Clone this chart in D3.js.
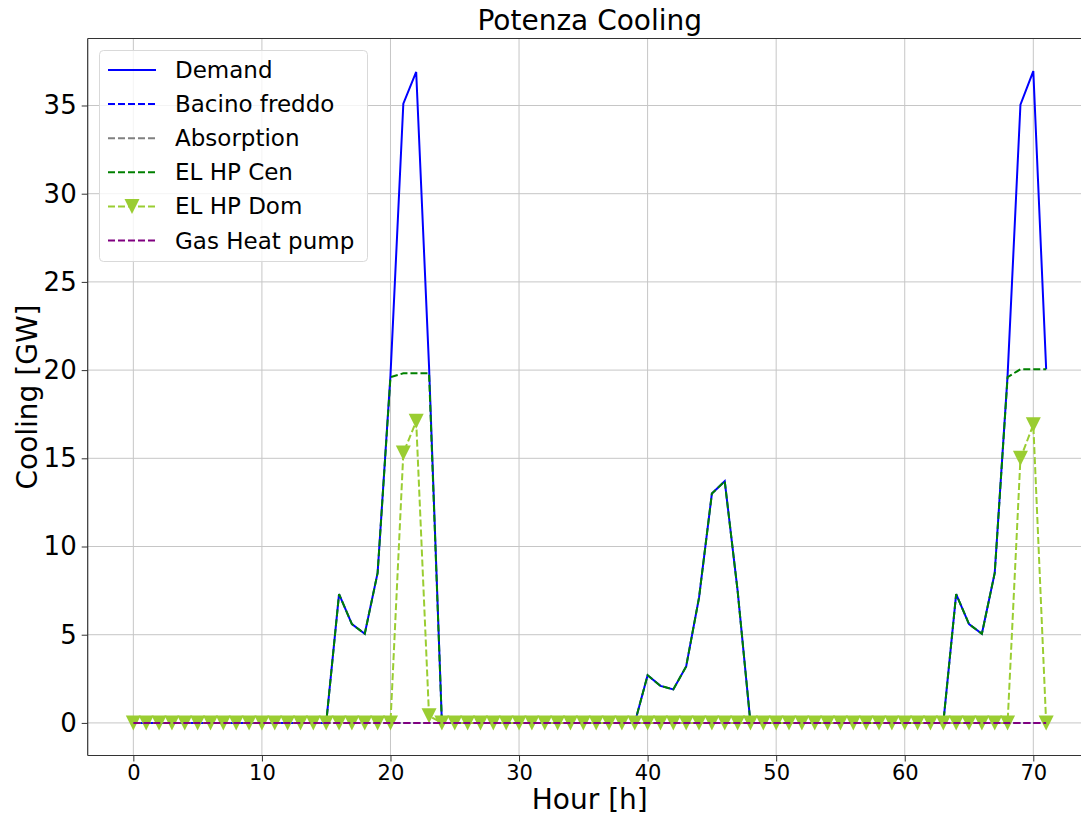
<!DOCTYPE html>
<html>
<head>
<meta charset="utf-8">
<script src="https://cdn.jsdelivr.net/npm/d3@7"></script>
<style>
  body { margin: 0; background: #fff; }
  text { font-family: "DejaVu Sans", sans-serif; fill: #000; }
</style>
</head>
<body>
<div id="chart"></div>
<script>
// hours 0..71
const hours = d3.range(0, 72)

const demand = [
  0,0,0,0,0,0,0,0,0,0,0,0,0,0,0,0,
  7.3,5.6,5.05,8.5,19.7,35.1,36.9,20.2,
  0,0,0,0,0,0,0,0,0,0,0,0,0,0,0,0,
  2.7,2.1,1.9,3.2,7.1,13.0,13.7,7.5,
  0,0,0,0,0,0,0,0,0,0,0,0,0,0,0,0,
  7.3,5.6,5.05,8.5,19.7,35.05,36.95,20.05
]
const elHpCen = [
  0,0,0,0,0,0,0,0,0,0,0,0,0,0,0,0,
  7.3,5.6,5.05,8.5,19.6,19.82,19.82,19.82,
  0,0,0,0,0,0,0,0,0,0,0,0,0,0,0,0,
  2.7,2.1,1.9,3.2,7.1,13.0,13.7,7.5,
  0,0,0,0,0,0,0,0,0,0,0,0,0,0,0,0,
  7.3,5.6,5.05,8.5,19.6,20.05,20.05,20.05
]
const elHpDom = [
  0,0,0,0,0,0,0,0,0,0,0,0,0,0,0,0,
  0,0,0,0,0,15.3,17.1,0.4,
  0,0,0,0,0,0,0,0,0,0,0,0,0,0,0,0,
  0,0,0,0,0,0,0,0,
  0,0,0,0,0,0,0,0,0,0,0,0,0,0,0,0,
  0,0,0,0,0,15.0,16.9,0
]
const bacinoFreddo = hours.map(() => 0)
const absorption = hours.map(() => 0)
const gasHeatPump = hours.map(() => 0)

const xTicks = [0, 10, 20, 30, 40, 50, 60, 70]
const yTicks = [0, 5, 10, 15, 20, 25, 30, 35]

const series = [
  {name: "Demand", values: demand, color: "#0000ff", dash: null, marker: false},
  {name: "Bacino freddo", values: bacinoFreddo, color: "#0000ff", dash: "7,3", marker: false},
  {name: "Absorption", values: absorption, color: "#808080", dash: "7,3", marker: false},
  {name: "EL HP Cen", values: elHpCen, color: "#008000", dash: "7,3", marker: false},
  {name: "EL HP Dom", values: elHpDom, color: "#9acd32", dash: "7,3", marker: true},
  {name: "Gas Heat pump", values: gasHeatPump, color: "#800080", dash: "7,3", marker: false}
]

const W = 1081, H = 816
const plot = {left: 87.7, top: 38.5, right: 1091.8, bottom: 755.5}

const svg = d3.select("#chart")
  .append("svg")
    .attr("width", W)
    .attr("height", H)

const yMax = d3.max(demand)
const x = d3.scaleLinear().domain([-3.55, 74.55]).range([plot.left, plot.right])
const y = d3.scaleLinear().domain([-0.05 * yMax, yMax * 1.05]).range([plot.bottom, plot.top])

svg.append("clipPath").attr("id", "clip")
  .append("rect")
    .attr("x", plot.left).attr("y", plot.top)
    .attr("width", plot.right - plot.left).attr("height", plot.bottom - plot.top)

// grid
const grid = svg.append("g")
grid.selectAll(".vg").data(xTicks).enter().append("line")
  .attr("x1", d => x(d)).attr("x2", d => x(d))
  .attr("y1", plot.top).attr("y2", plot.bottom)
  .attr("stroke", "#c6c6c6").attr("stroke-width", 1)
grid.selectAll(".hg").data(yTicks).enter().append("line")
  .attr("x1", plot.left).attr("x2", plot.right)
  .attr("y1", d => y(d)).attr("y2", d => y(d))
  .attr("stroke", "#c6c6c6").attr("stroke-width", 1)

// lines
const line = d3.line()
  .x((d, i) => x(hours[i]))
  .y(d => y(d))

const marks = svg.append("g").attr("clip-path", "url(#clip)")
// matplotlib style 'v' marker, centred on its box
const ms = 15
const triDown = `M0,${ms / 2}L${-ms / 2},${-ms / 2}L${ms / 2},${-ms / 2}Z`

series.forEach(s => {
  marks.append("path")
    .datum(s.values)
    .attr("d", line)
    .attr("fill", "none")
    .attr("stroke", s.color)
    .attr("stroke-width", 2)
    .attr("stroke-dasharray", s.dash)
  if (s.marker) {
    marks.selectAll(".m").data(s.values).enter().append("path")
      .attr("d", triDown)
      .attr("transform", (d, i) => `translate(${x(hours[i])},${y(d)})`)
      .attr("fill", s.color)
  }
})

// spines
svg.append("line").attr("x1", plot.left).attr("x2", plot.left).attr("y1", plot.top).attr("y2", plot.bottom)
  .attr("stroke", "#333").attr("stroke-width", 1.2)
svg.append("line").attr("x1", plot.left).attr("x2", plot.right).attr("y1", plot.bottom).attr("y2", plot.bottom)
  .attr("stroke", "#333").attr("stroke-width", 1.2)
svg.append("line").attr("x1", plot.left).attr("x2", plot.right).attr("y1", plot.top).attr("y2", plot.top)
  .attr("stroke", "#333").attr("stroke-width", 1.2)

// axes
const xAxis = svg.append("g")
  .attr("transform", `translate(0, ${plot.bottom})`)
  .call(d3.axisBottom(x).tickValues(xTicks).tickSize(6).tickPadding(4).tickFormat(d3.format("d")))
xAxis.select(".domain").remove()
xAxis.selectAll("line").attr("stroke", "#333")
xAxis.selectAll("text").style("font-size", "21px").attr("fill", "#000")

const yAxis = svg.append("g")
  .attr("transform", `translate(${plot.left}, 0)`)
  .call(d3.axisLeft(y).tickValues(yTicks).tickSize(6).tickPadding(5).tickFormat(d3.format("d")))
yAxis.select(".domain").remove()
yAxis.selectAll("line").attr("stroke", "#333")
yAxis.selectAll("text").style("font-size", "26px").attr("fill", "#000")

// labels
svg.append("text")
  .attr("x", (plot.left + plot.right) / 2).attr("y", 30)
  .attr("text-anchor", "middle").style("font-size", "28px")
  .text("Potenza Cooling")
svg.append("text")
  .attr("x", (plot.left + plot.right) / 2).attr("y", 809)
  .attr("text-anchor", "middle").style("font-size", "28px")
  .text("Hour [h]")
svg.append("text")
  .attr("transform", `translate(37, ${(plot.top + plot.bottom) / 2}) rotate(-90)`)
  .attr("text-anchor", "middle").style("font-size", "28px")
  .text("Cooling [GW]")

// legend
const legend = svg.append("g")
legend.append("rect")
  .attr("x", 99.5).attr("y", 50.5).attr("width", 268).attr("height", 211)
  .attr("rx", 4).attr("fill", "#fff").attr("fill-opacity", 0.8)
  .attr("stroke", "#d9d9d9").attr("stroke-width", 1)

const rows = legend.selectAll(".row").data(series).enter().append("g")
  .attr("transform", (d, i) => `translate(0, ${70 + i * 34.1})`)
rows.append("line")
  .attr("x1", 108).attr("x2", 156)
  .attr("stroke", d => d.color).attr("stroke-width", 2)
  .attr("stroke-dasharray", d => d.dash)
rows.filter(d => d.marker).append("path")
  .attr("d", triDown)
  .attr("transform", "translate(132,0)")
  .attr("fill", d => d.color)
rows.append("text")
  .attr("x", 175).attr("y", 8)
  .style("font-size", "23px")
  .text(d => d.name)
</script>
</body>
</html>
